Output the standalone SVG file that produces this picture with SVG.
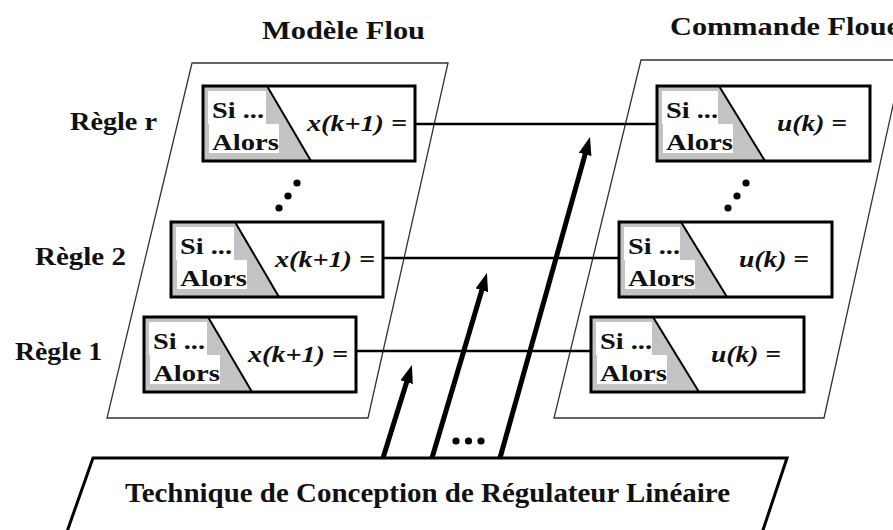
<svg xmlns="http://www.w3.org/2000/svg" width="893" height="530" viewBox="0 0 893 530" font-family="'Liberation Serif', 'Times New Roman', serif">
<defs>
<style>
text{font-family:'Liberation Serif','Times New Roman',serif;font-weight:bold;fill:#111}
.title{font-size:25px}
.lbl{font-size:25px}
.ri{font-size:24px}
.eq{font-size:24px;font-style:italic}
.big{font-size:27px}
.panel{fill:#fff;stroke:#333;stroke-width:1.3}
.bpanel{fill:#fff;stroke:#000;stroke-width:3}
.frame{fill:none;stroke:#000;stroke-width:3}
.bg{fill:#fff}
.gray{fill:#c3c3c3}
.wb{fill:#fff}
.diag{stroke:#000;stroke-width:2;fill:none}
.link{stroke:#000;stroke-width:2.5;fill:none}
.arrow{stroke:#000;stroke-width:5;fill:none;marker-end:url(#ah)}
.dot{fill:#000}
</style>
<marker id="ah" markerUnits="userSpaceOnUse" viewBox="0 0 18 13" refX="1" refY="6.5" markerWidth="18" markerHeight="13" orient="auto"><path d="M0,0 L18,6.5 L0,13 z" fill="#000"/></marker>
</defs>
<rect width="893" height="530" fill="#fff"/>

<g id="panel-modele">
<polygon class="panel" points="192,63 448,63 368,418 107,418"/>
<text class="title" x="262" y="39" textLength="163" lengthAdjust="spacingAndGlyphs">Modèle Flou</text>
<circle class="dot" cx="297" cy="183" r="3.6"/>
<circle class="dot" cx="288" cy="196" r="3.6"/>
<circle class="dot" cx="279" cy="208" r="3.6"/>
</g>

<g id="panel-commande">
<polygon class="panel" points="641,60 903,60 824,418 554,418"/>
<text class="title" x="670" y="35" textLength="230" lengthAdjust="spacingAndGlyphs">Commande Floue</text>
<circle class="dot" cx="746" cy="183" r="3.6"/>
<circle class="dot" cx="737" cy="196" r="3.6"/>
<circle class="dot" cx="728" cy="208" r="3.6"/>
</g>

<g id="labels">
<text class="lbl" x="70" y="130" textLength="87" lengthAdjust="spacingAndGlyphs">Règle r</text>
<text class="lbl" x="35" y="265" textLength="91" lengthAdjust="spacingAndGlyphs">Règle 2</text>
<text class="lbl" x="15" y="360" textLength="87" lengthAdjust="spacingAndGlyphs">Règle 1</text>
</g>

<g id="connectors">
<line class="link" x1="415" y1="124" x2="657" y2="124"/>
<line class="link" x1="383" y1="258" x2="619" y2="258"/>
<line class="link" x1="355" y1="351" x2="591" y2="351"/>
<line class="arrow" x1="383" y1="458" x2="406.9" y2="381.2"/>
<line class="arrow" x1="432" y1="458" x2="482.1" y2="289.3"/>
<line class="arrow" x1="500" y1="458" x2="585.4" y2="153.4"/>
<circle class="dot" cx="456" cy="441" r="3.6"/>
<circle class="dot" cx="468.5" cy="441" r="3.6"/>
<circle class="dot" cx="481" cy="441" r="3.6"/>
</g>

<g id="model-rule-r" transform="translate(203,86)">
<rect class="bg" width="212" height="75"/>
<polygon class="gray" points="0,0 64,0 108,75 0,75"/>
<rect class="wb" x="5" y="5" width="58" height="33"/>
<rect class="wb" x="6" y="38" width="70" height="29"/>
<line class="diag" x1="64" y1="0" x2="108" y2="75"/>
<text class="ri" x="9" y="32" textLength="52" lengthAdjust="spacingAndGlyphs">Si ...</text>
<text class="ri" x="9" y="64" textLength="67" lengthAdjust="spacingAndGlyphs">Alors</text>
<text class="eq" x="104" y="45" textLength="100" lengthAdjust="spacingAndGlyphs">x(k+1) =</text>
<rect class="frame" width="212" height="75"/>
</g>

<g id="model-rule-2" transform="translate(171,222)">
<rect class="bg" width="212" height="75"/>
<polygon class="gray" points="0,0 64,0 108,75 0,75"/>
<rect class="wb" x="5" y="5" width="58" height="33"/>
<rect class="wb" x="6" y="38" width="70" height="29"/>
<line class="diag" x1="64" y1="0" x2="108" y2="75"/>
<text class="ri" x="9" y="32" textLength="52" lengthAdjust="spacingAndGlyphs">Si ...</text>
<text class="ri" x="9" y="64" textLength="67" lengthAdjust="spacingAndGlyphs">Alors</text>
<text class="eq" x="104" y="45" textLength="100" lengthAdjust="spacingAndGlyphs">x(k+1) =</text>
<rect class="frame" width="212" height="75"/>
</g>

<g id="model-rule-1" transform="translate(144,317)">
<rect class="bg" width="212" height="75"/>
<polygon class="gray" points="0,0 64,0 108,75 0,75"/>
<rect class="wb" x="5" y="5" width="58" height="33"/>
<rect class="wb" x="6" y="38" width="70" height="29"/>
<line class="diag" x1="64" y1="0" x2="108" y2="75"/>
<text class="ri" x="9" y="32" textLength="52" lengthAdjust="spacingAndGlyphs">Si ...</text>
<text class="ri" x="9" y="64" textLength="67" lengthAdjust="spacingAndGlyphs">Alors</text>
<text class="eq" x="104" y="45" textLength="100" lengthAdjust="spacingAndGlyphs">x(k+1) =</text>
<rect class="frame" width="212" height="75"/>
</g>

<g id="control-rule-r" transform="translate(657,86)">
<rect class="bg" width="213" height="75"/>
<polygon class="gray" points="0,0 62,0 108,75 0,75"/>
<rect class="wb" x="5" y="5" width="56" height="33"/>
<rect class="wb" x="6" y="38" width="70" height="29"/>
<line class="diag" x1="62" y1="0" x2="108" y2="75"/>
<text class="ri" x="9" y="32" textLength="52" lengthAdjust="spacingAndGlyphs">Si ...</text>
<text class="ri" x="9" y="64" textLength="67" lengthAdjust="spacingAndGlyphs">Alors</text>
<text class="eq" x="120" y="45" textLength="70" lengthAdjust="spacingAndGlyphs">u(k) =</text>
<rect class="frame" width="213" height="75"/>
</g>

<g id="control-rule-2" transform="translate(619,222)">
<rect class="bg" width="213" height="75"/>
<polygon class="gray" points="0,0 62,0 108,75 0,75"/>
<rect class="wb" x="5" y="5" width="56" height="33"/>
<rect class="wb" x="6" y="38" width="70" height="29"/>
<line class="diag" x1="62" y1="0" x2="108" y2="75"/>
<text class="ri" x="9" y="32" textLength="52" lengthAdjust="spacingAndGlyphs">Si ...</text>
<text class="ri" x="9" y="64" textLength="67" lengthAdjust="spacingAndGlyphs">Alors</text>
<text class="eq" x="120" y="45" textLength="70" lengthAdjust="spacingAndGlyphs">u(k) =</text>
<rect class="frame" width="213" height="75"/>
</g>

<g id="control-rule-1" transform="translate(591,317)">
<rect class="bg" width="213" height="75"/>
<polygon class="gray" points="0,0 62,0 108,75 0,75"/>
<rect class="wb" x="5" y="5" width="56" height="33"/>
<rect class="wb" x="6" y="38" width="70" height="29"/>
<line class="diag" x1="62" y1="0" x2="108" y2="75"/>
<text class="ri" x="9" y="32" textLength="52" lengthAdjust="spacingAndGlyphs">Si ...</text>
<text class="ri" x="9" y="64" textLength="67" lengthAdjust="spacingAndGlyphs">Alors</text>
<text class="eq" x="120" y="45" textLength="70" lengthAdjust="spacingAndGlyphs">u(k) =</text>
<rect class="frame" width="213" height="75"/>
</g>

<g id="technique">
<polygon class="bpanel" points="93,458 787,458 753,560 57,560"/>
<text class="big" x="125" y="502" textLength="605" lengthAdjust="spacingAndGlyphs">Technique de Conception de Régulateur Linéaire</text>
</g>
</svg>
